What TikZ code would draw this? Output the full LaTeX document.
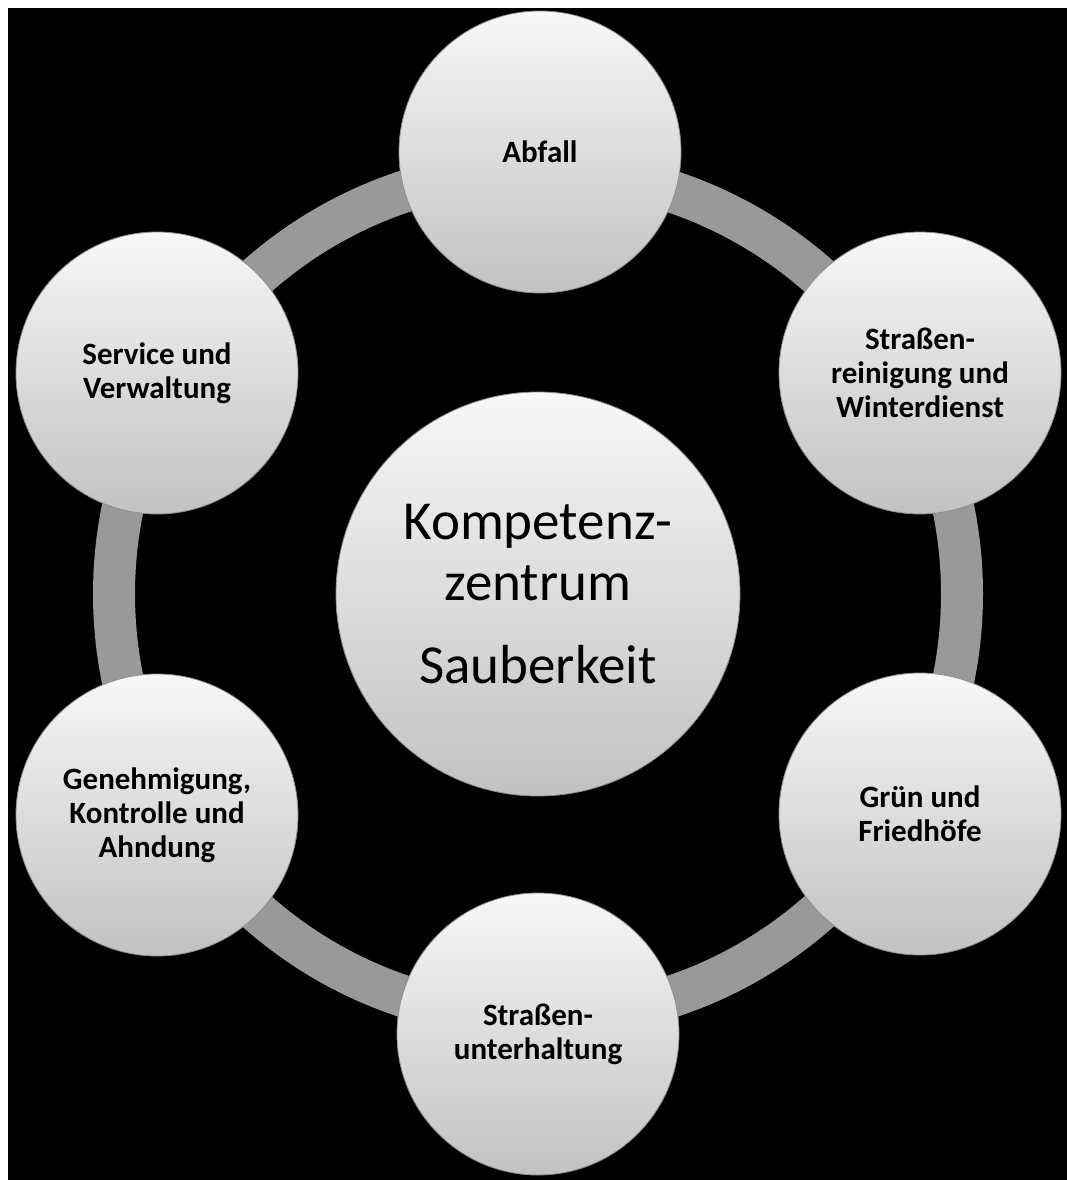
\documentclass[tikz,border=0pt]{standalone}
\usepackage{fontspec}
\setmainfont{Carlito}
\usepackage{tikz}

\tikzset{
	kugel/.style={circle, inner sep=0pt, minimum size=282pt, align=center,
		top color=white!97!black, bottom color=white!76!black,
		draw=black!45, line width=0.8pt,
		font=\bfseries\fontsize{31}{34}\selectfont},
	hub/.style={kugel, minimum size=404pt, font=\fontsize{55}{61}\selectfont},
	ring/.style={draw=black!40, line width=42pt}
}

\begin{document}
\begin{tikzpicture}[x=1pt,y=-1pt]
	\useasboundingbox (0,0) rectangle (1067,1180);
	\fill[white] (0,0) rectangle (1067,1180);
	\fill[black] (8,8) rectangle (1075,1188);
	% ring behind the circles
	\coordinate (mitte) at (538,594);
	\draw[ring] (mitte) circle (424pt);
	\node[hub] (kern) at (mitte) {Kompetenz-\\zentrum\\[22pt]Sauberkeit};
	\node[kugel] (abfall) at (540,152) {Abfall};
	\node[kugel] (reinigung) at (920,373) {Straßen-\\reinigung und\\Winterdienst};
	\node[kugel] (gruen) at (920,814) {Grün und\\Friedhöfe};
	\node[kugel] (unterhalt) at (538,1034) {Straßen-\\unterhaltung};
	\node[kugel] (genehm) at (157,815) {Genehmigung,\\Kontrolle und\\Ahndung};
	\node[kugel] (service) at (157,373) {Service und\\Verwaltung};
\end{tikzpicture}
\end{document}
